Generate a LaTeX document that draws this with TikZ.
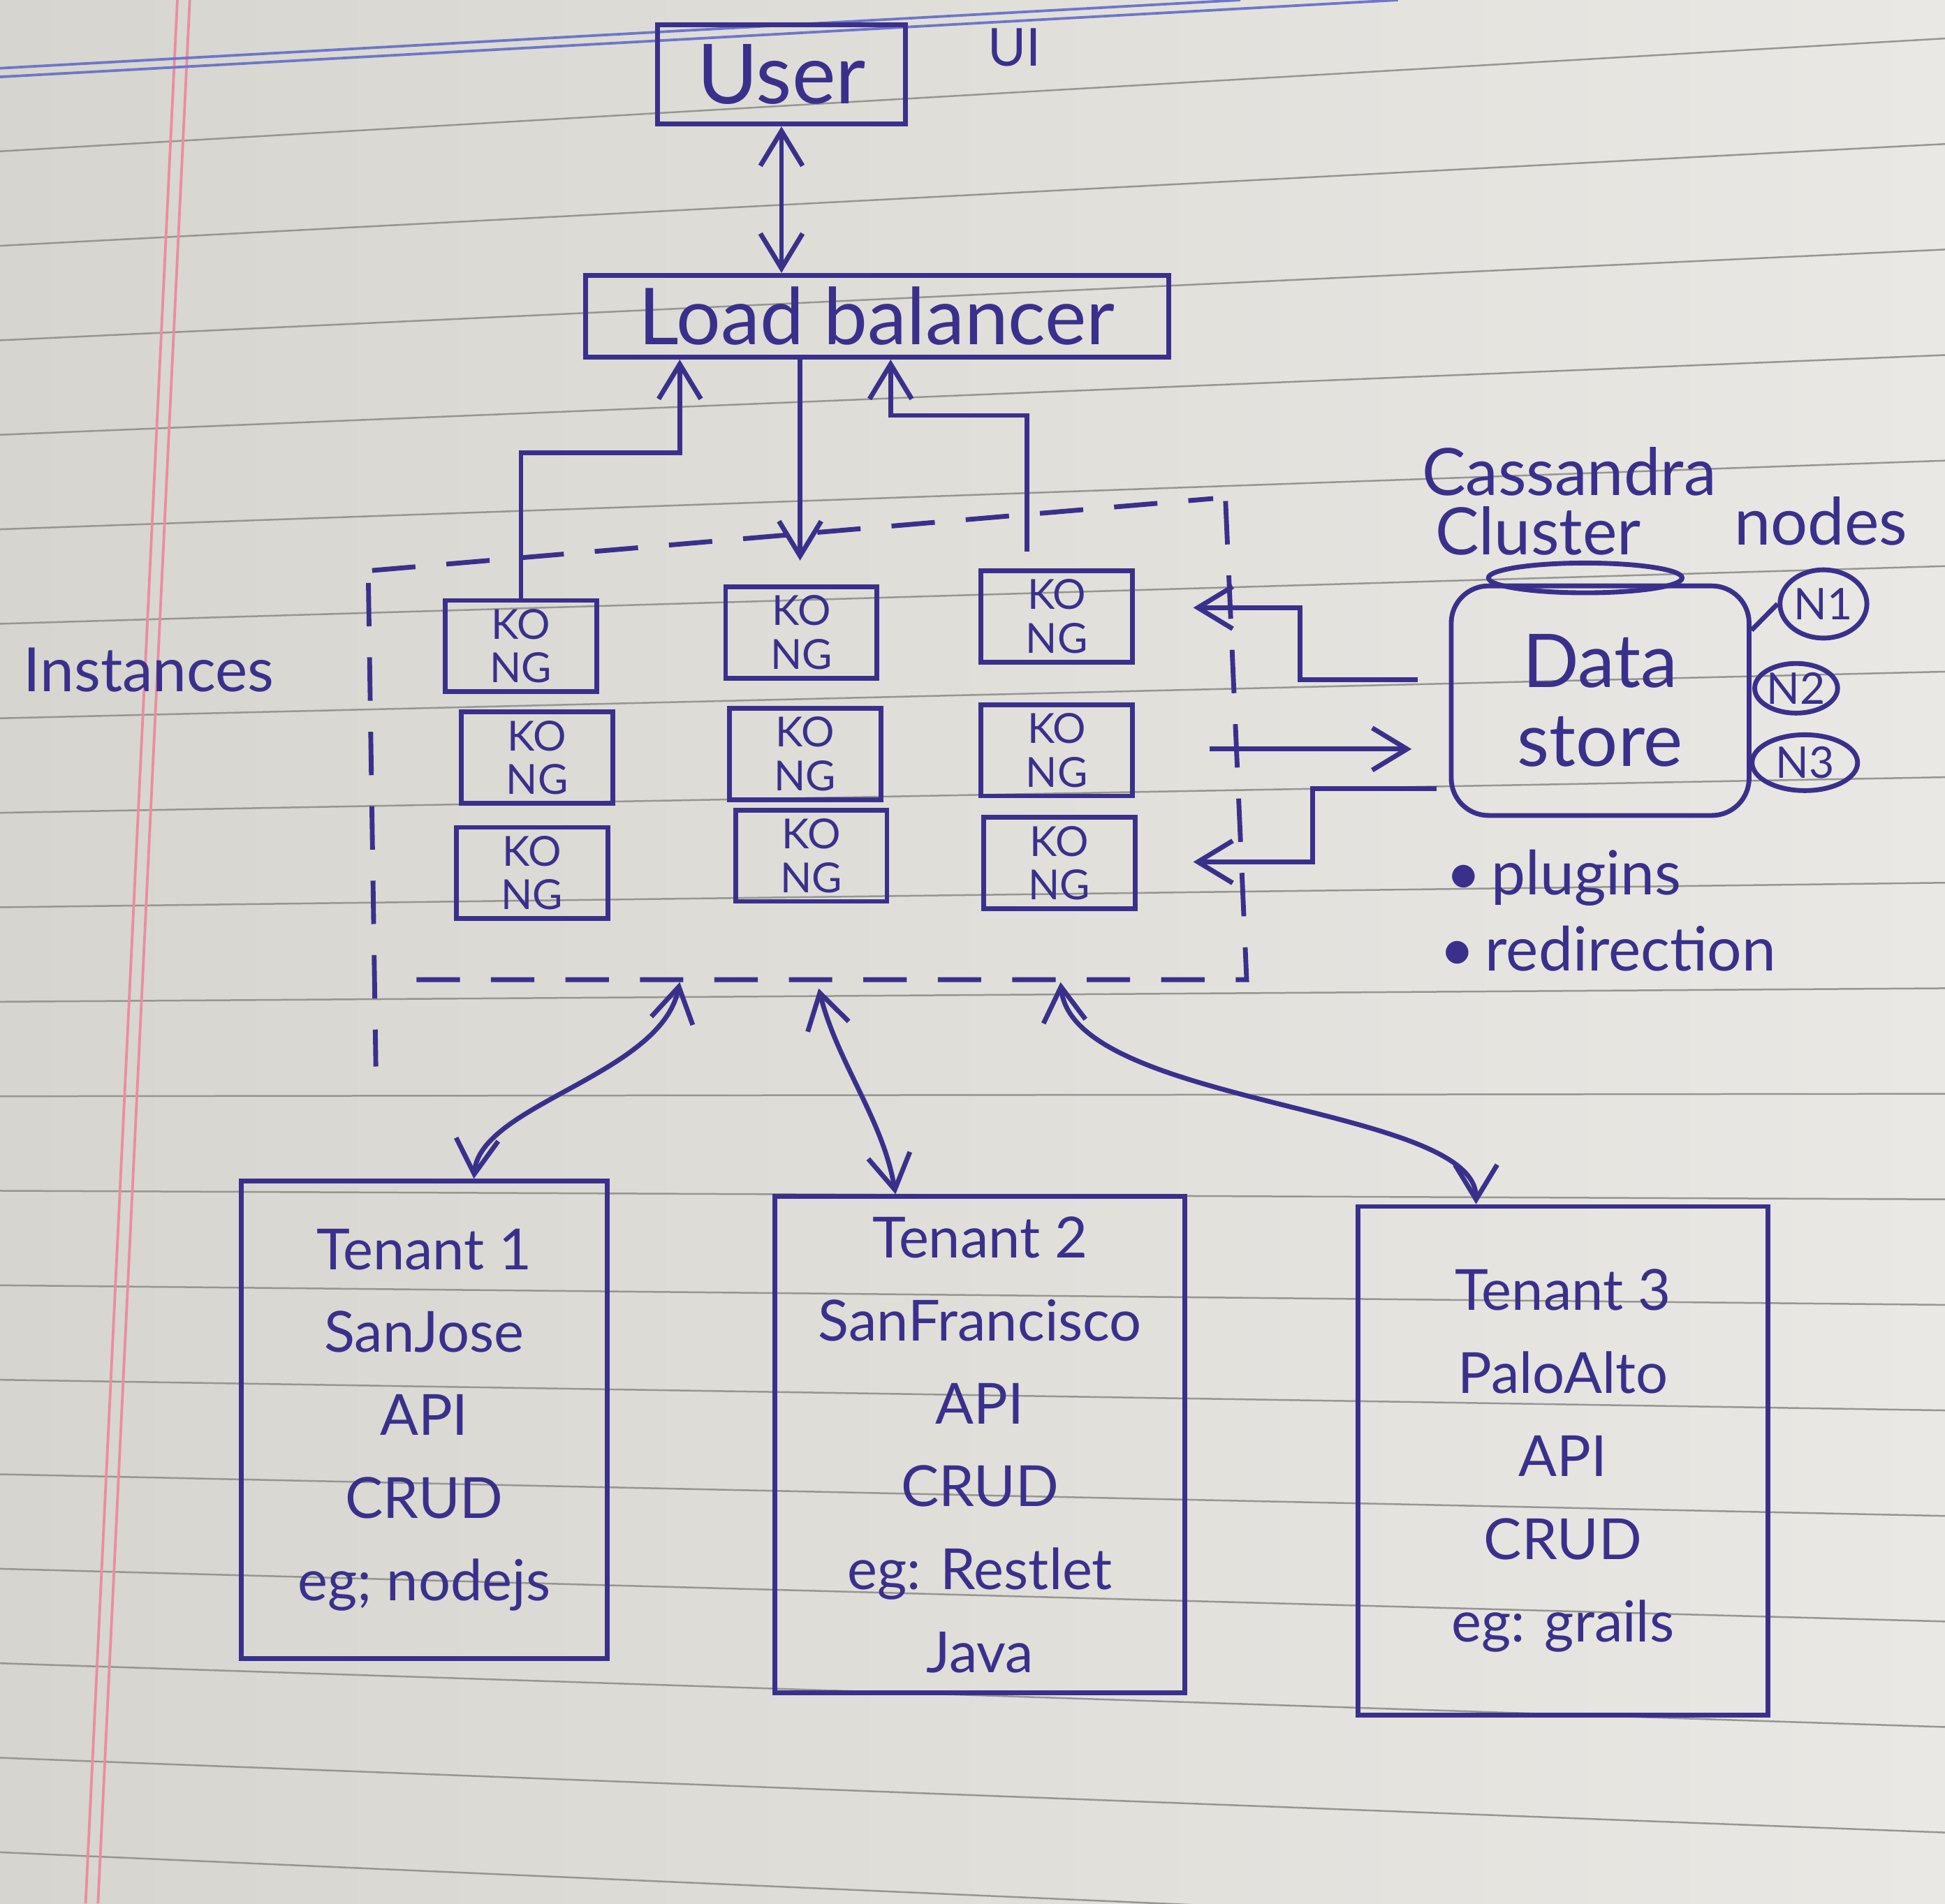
\documentclass[tikz,border=0pt]{standalone}
\usepackage{fontspec}
\setmainfont{Lato}
\usepackage{tikz}
\usetikzlibrary{arrows.meta,shapes.geometric}

\definecolor{ink}{RGB}{58,48,140}
\definecolor{paperA}{RGB}{214,213,207}
\definecolor{paperB}{RGB}{234,232,228}
\definecolor{ruling}{RGB}{150,150,146}
\definecolor{margin}{RGB}{236,140,160}
\definecolor{header}{RGB}{110,118,200}

\tikzset{
  >={Straight Barb[length=2.8mm,width=3.4mm]},
  pen/.style={draw=ink, line width=1.1pt},
  box/.style={pen, rectangle, inner sep=2pt, text=ink},
  kongbox/.style={box, minimum width=1.22cm, minimum height=0.62cm, align=center, font=\fontsize{9.5}{10}\selectfont},
  tenant/.style={box, align=center, font=\fontsize{13}{19}\selectfont},
  nodecirc/.style={pen, ellipse, inner sep=0pt, text=ink, font=\fontsize{10}{11}\selectfont},
  note/.style={text=ink, inner sep=0pt},
  wire/.style={draw=ink, line width=1.1pt},
  frame/.style={draw=ink, line width=1.1pt, dash pattern=on 3.5mm off 2.5mm},
}

\begin{document}
\begin{tikzpicture}[x=0.01cm,y=-0.01cm]
         \shade[left color=paperA, right color=paperB] (0,0) rectangle (1568,1535);
         \useasboundingbox (0,0) rectangle (1568,1535);
         \foreach \i in {0,...,18} {\pgfmathsetmacro\yl{122+76.2*\i} \pgfmathsetmacro\yr{31+85.1*\i} \draw[ruling, line width=0.4pt] (0,\yl) -- (1568,\yr); }
         \draw[margin, line width=0.6pt] (143,0) -- (69,1535);
         \draw[margin, line width=0.6pt] (153,0) -- (79,1535);
         \draw[header, line width=0.6pt] (0,55) -- (1000,0);
         \draw[header, line width=0.6pt] (0,62) -- (1127,0);

         \node[box, minimum width=2cm, minimum height=0.8cm, font=\fontsize{19}{19}\selectfont] (user) at (630,60) {User};
         \node[note, font=\fontsize{12}{12}\selectfont] (ui) at (818,38) {UI};
         \node[box, minimum width=4.7cm, minimum height=0.66cm, font=\fontsize{18}{18}\selectfont] (lb) at (707,255) {Load balancer};
         \draw[<->, wire] (user.south) -- (user.south |- lb.north);

         \foreach \n/\x/\y in {11/420/521, 12/646/510, 13/852/497, 21/433/611, 22/649/608, 23/852/605, 31/429/704, 32/654/690, 33/854/696} {\node[kongbox] (k\n) at (\x,\y) {KO\\NG}; }
         \node[note, font=\fontsize{14}{14}\selectfont] (inst) at (120,540) {Instances};

         \draw[frame] (300,460) -- (978,402);
         \draw[frame] (988,404) -- (1005,790) -- (312,790);
         \draw[frame] (297,470) -- (303,860);
         \coordinate (f1) at (548,792);
         \coordinate (f2) at (660,797);
         \coordinate (f3) at (855,792);

         \coordinate (b1) at (548,365);
         \coordinate (m1) at (645,452);
         \coordinate (c3) at (828,445);
         \coordinate (b3) at (718,335);
         \draw[->, wire] (k11.north) |- (b1) -- (b1 |- lb.south);
         \draw[->, wire] (m1 |- lb.south) -- (m1);
         \draw[->, wire] (c3) |- (b3) -- (b3 |- lb.south);

         \node[note, font=\fontsize{15}{15}\selectfont] (cass) at (1265,380) {Cassandra};
         \node[note, font=\fontsize{15}{15}\selectfont] (clus) at (1240,428) {Cluster};
         \node[note, font=\fontsize{15}{15}\selectfont] (nds) at (1468,420) {nodes};
         \node[box, rounded corners=3mm, minimum width=2.4cm, minimum height=1.85cm, align=center, font=\fontsize{17}{18}\selectfont] (ds) at (1290,565) {Data\\store};
         \node[pen, ellipse, minimum width=1.56cm, minimum height=0.24cm, inner sep=0pt] (dstop) at (1278,466) {};
         \node[nodecirc, minimum width=0.7cm, minimum height=0.55cm] (n1) at (1470,487) {N1};
         \node[nodecirc, minimum width=0.6cm, minimum height=0.4cm] (n2) at (1448,555) {N2};
         \node[nodecirc, minimum width=0.85cm, minimum height=0.45cm] (n3) at (1455,615) {N3};
         \draw[wire] (ds.25) -- (n1.west);

         \coordinate (d1) at (1048,548);
         \coordinate (e1) at (962,490);
         \coordinate (e2) at (975,604);
         \coordinate (d3) at (1058,636);
         \coordinate (e3) at (962,695);
         \draw[->, wire, shorten <=2.5mm] (d1 -| ds.west) -- (d1) |- (e1);
         \draw[->, wire, shorten >=3mm] (e2) -- (e2 -| ds.west);
         \draw[->, wire, shorten <=1mm] (d3 -| ds.west) -- (d3) |- (e3);

         \node[note, anchor=west, font=\fontsize{14}{14}\selectfont] (plug) at (1165,708) {\textbullet\,plugins};
         \node[note, anchor=west, font=\fontsize{14}{14}\selectfont] (redir) at (1160,765) {\textbullet\,redirection};

         \node[tenant, minimum width=2.95cm, minimum height=3.85cm] (t1) at (342,1145) {Tenant 1\\SanJose\\API\\CRUD\\eg; nodejs};
         \node[tenant, minimum width=3.3cm, minimum height=4cm, text depth=-2mm] (t2) at (790,1165) {Tenant 2\\SanFrancisco\\API\\CRUD\\eg: Restlet\\Java};
         \node[tenant, minimum width=3.3cm, minimum height=4.1cm] (t3) at (1260,1178) {Tenant 3\\PaloAlto\\API\\CRUD\\eg: grails};

         \draw[<->, wire] (f1) .. controls +(-15,75) and +(5,-60) .. ([xshift=4mm]t1.north);
         \draw[<->, wire] (f2) .. controls +(15,60) and +(-10,-60) .. ([xshift=-6.8mm]t2.north);
         \draw[<->, wire] (f3) .. controls +(10,100) and +(0,-80) .. ([xshift=-7mm]t3.north);
      \end{tikzpicture}
\end{document}
